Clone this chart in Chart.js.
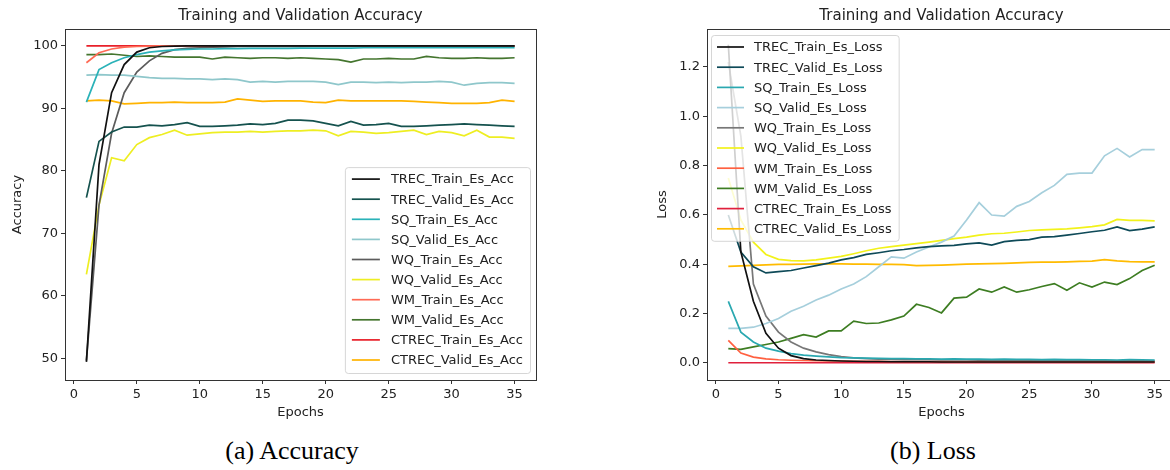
<!DOCTYPE html>
<html>
<head>
<meta charset="utf-8">
<script src="https://cdn.jsdelivr.net/npm/chart.js"></script>
<style>
  html, body { margin: 0; padding: 0; background: #fff; }
  #page { position: relative; width: 1170px; height: 470px; overflow: hidden; }
  .box { position: absolute; top: 0; height: 430px; }
  .caption { position: absolute; top: 436px; font-family: "Liberation Serif", serif; font-size: 26px; color: #000; transform: translateX(-50%); white-space: nowrap; }
</style>
</head>
<body>
<div id="page">
  <div class="box" style="left:0; width:548px;"><canvas id="acc-chart"></canvas></div>
  <div class="box" style="left:640px; width:540px;"><canvas id="loss-chart"></canvas></div>
  <div class="caption" style="left:292px;">(a) Accuracy</div>
  <div class="caption" style="left:933px;">(b) Loss</div>
</div>
<script>
const epochs = [1, 2, 3, 4, 5, 6, 7, 8, 9, 10, 11, 12, 13, 14, 15, 16, 17, 18, 19, 20,
  21, 22, 23, 24, 25, 26, 27, 28, 29, 30, 31, 32, 33, 34, 35];
const xTicks = [0, 5, 10, 15, 20, 25, 30, 35];
const accTicks = [50, 60, 70, 80, 90, 100];
const lossTicks = [0, 0.2, 0.4, 0.6, 0.8, 1.0, 1.2];

// accuracy (%)
const trecTrainAcc = [49.4, 81.0, 92.5, 97.0, 99.0, 99.7, 99.9, 99.95, 100, 100, 100, 100, 100, 100, 100, 100, 100, 100, 100, 100, 100, 100, 100, 100, 100, 100, 100, 100, 100, 100, 100, 100, 100, 100, 100];
const trecValidAcc = [75.7, 84.7, 86.2, 87.0, 87.0, 87.3, 87.2, 87.4, 87.7, 87.1, 87.1, 87.2, 87.3, 87.5, 87.4, 87.6, 88.1, 88.1, 88.0, 87.6, 87.2, 87.9, 87.3, 87.4, 87.6, 87.1, 87.1, 87.2, 87.3, 87.4, 87.5, 87.4, 87.3, 87.2, 87.1];
const sqTrainAcc = [91.0, 96.2, 97.3, 98.1, 98.6, 99.0, 99.2, 99.35, 99.45, 99.5, 99.5, 99.55, 99.55, 99.6, 99.6, 99.6, 99.6, 99.65, 99.65, 99.65, 99.65, 99.65, 99.7, 99.7, 99.7, 99.7, 99.7, 99.7, 99.7, 99.7, 99.7, 99.7, 99.7, 99.7, 99.7];
const sqValidAcc = [95.3, 95.4, 95.3, 95.3, 95.1, 94.9, 94.8, 94.8, 94.7, 94.7, 94.6, 94.7, 94.6, 94.2, 94.3, 94.2, 94.3, 94.3, 94.3, 94.2, 93.8, 94.2, 94.2, 94.1, 94.2, 94.1, 94.2, 94.2, 94.3, 94.2, 93.7, 94.0, 94.1, 94.1, 94.0];
const wqTrainAcc = [49.6, 74.5, 86.0, 92.5, 95.8, 97.6, 98.8, 99.4, 99.6, 99.7, 99.8, 99.85, 99.9, 99.9, 99.9, 99.9, 99.9, 99.9, 99.95, 99.95, 99.95, 99.95, 99.95, 99.95, 99.95, 99.95, 99.95, 99.95, 99.95, 99.95, 99.95, 99.95, 99.95, 99.95, 99.95];
const wqValidAcc = [63.4, 74.5, 82.1, 81.6, 84.2, 85.3, 85.8, 86.5, 85.7, 85.9, 86.1, 86.2, 86.2, 86.3, 86.2, 86.3, 86.4, 86.4, 86.5, 86.4, 85.6, 86.3, 86.2, 86.0, 86.1, 86.3, 86.5, 85.8, 86.3, 86.1, 85.6, 86.5, 85.4, 85.4, 85.2];
const wmTrainAcc = [97.3, 98.9, 99.5, 99.8, 99.9, 99.95, 100, 100, 100, 100, 100, 100, 100, 100, 100, 100, 100, 100, 100, 100, 100, 100, 100, 100, 100, 100, 100, 100, 100, 100, 100, 100, 100, 100, 100];
const wmValidAcc = [98.6, 98.6, 98.7, 98.5, 98.3, 98.4, 98.3, 98.2, 98.2, 98.2, 97.9, 98.2, 98.1, 98.0, 98.1, 98.1, 98.0, 98.1, 98.0, 97.9, 97.8, 97.4, 97.9, 97.9, 98.0, 97.9, 97.9, 98.3, 98.1, 98.0, 98.0, 98.1, 98.0, 98.0, 98.1];
const ctrecTrainAcc = [100, 100, 100, 100, 100, 100, 100, 100, 100, 100, 100, 100, 100, 100, 100, 100, 100, 100, 100, 100, 100, 100, 100, 100, 100, 100, 100, 100, 100, 100, 100, 100, 100, 100, 100];
const ctrecValidAcc = [91.2, 91.3, 91.2, 90.7, 90.8, 90.9, 90.9, 91.0, 90.9, 90.9, 90.9, 91.0, 91.5, 91.3, 91.1, 91.2, 91.2, 91.2, 91.0, 90.9, 91.3, 91.2, 91.2, 91.2, 91.2, 91.2, 91.1, 91.0, 90.9, 90.8, 90.8, 90.8, 90.9, 91.3, 91.1];

// loss
const trecTrainLoss = [1.29, 0.45, 0.25, 0.12, 0.06, 0.03, 0.018, 0.012, 0.010, 0.008, 0.007, 0.006, 0.006, 0.005, 0.005, 0.005, 0.005, 0.004, 0.004, 0.004, 0.004, 0.004, 0.004, 0.004, 0.004, 0.004, 0.004, 0.004, 0.004, 0.004, 0.004, 0.004, 0.004, 0.004, 0.004];
const trecValidLoss = [0.60, 0.45, 0.39, 0.365, 0.37, 0.375, 0.385, 0.395, 0.405, 0.418, 0.427, 0.44, 0.447, 0.455, 0.46, 0.467, 0.472, 0.475, 0.477, 0.483, 0.487, 0.478, 0.492, 0.497, 0.50, 0.51, 0.512, 0.518, 0.525, 0.532, 0.538, 0.552, 0.537, 0.543, 0.552];
const sqTrainLoss = [0.25, 0.125, 0.085, 0.06, 0.048, 0.038, 0.032, 0.028, 0.025, 0.022, 0.021, 0.020, 0.019, 0.018, 0.018, 0.017, 0.017, 0.016, 0.017, 0.016, 0.016, 0.015, 0.016, 0.015, 0.015, 0.014, 0.015, 0.014, 0.014, 0.013, 0.013, 0.012, 0.014, 0.013, 0.012];
const sqValidLoss = [0.14, 0.14, 0.145, 0.16, 0.18, 0.21, 0.23, 0.255, 0.275, 0.30, 0.32, 0.35, 0.39, 0.43, 0.425, 0.45, 0.47, 0.49, 0.515, 0.58, 0.65, 0.60, 0.595, 0.635, 0.655, 0.69, 0.72, 0.765, 0.77, 0.77, 0.84, 0.87, 0.835, 0.865, 0.865];
const wqTrainLoss = [1.22, 0.92, 0.32, 0.19, 0.125, 0.085, 0.06, 0.045, 0.034, 0.026, 0.021, 0.018, 0.016, 0.015, 0.014, 0.013, 0.013, 0.012, 0.012, 0.012, 0.011, 0.011, 0.011, 0.011, 0.010, 0.010, 0.010, 0.010, 0.010, 0.010, 0.010, 0.009, 0.009, 0.009, 0.009];
const wqValidLoss = [0.75, 0.58, 0.49, 0.44, 0.42, 0.415, 0.414, 0.418, 0.425, 0.432, 0.443, 0.455, 0.465, 0.472, 0.478, 0.484, 0.49, 0.497, 0.504, 0.51, 0.518, 0.524, 0.526, 0.531, 0.537, 0.54, 0.542, 0.544, 0.548, 0.553, 0.56, 0.582, 0.578, 0.578, 0.576];
const wmTrainLoss = [0.092, 0.04, 0.024, 0.017, 0.013, 0.011, 0.010, 0.009, 0.008, 0.008, 0.007, 0.007, 0.007, 0.006, 0.006, 0.006, 0.006, 0.006, 0.005, 0.005, 0.005, 0.005, 0.005, 0.005, 0.005, 0.005, 0.005, 0.005, 0.005, 0.005, 0.005, 0.005, 0.005, 0.005, 0.005];
const wmValidLoss = [0.058, 0.055, 0.065, 0.075, 0.085, 0.10, 0.115, 0.105, 0.13, 0.13, 0.17, 0.16, 0.162, 0.175, 0.19, 0.238, 0.225, 0.203, 0.263, 0.267, 0.30, 0.287, 0.308, 0.287, 0.297, 0.31, 0.322, 0.295, 0.325, 0.308, 0.328, 0.318, 0.342, 0.375, 0.396];
const ctrecTrainLoss = [0.001, 0.001, 0.001, 0.001, 0.001, 0.001, 0.001, 0.001, 0.001, 0.001, 0.001, 0.001, 0.001, 0.001, 0.001, 0.001, 0.001, 0.001, 0.001, 0.001, 0.001, 0.001, 0.001, 0.001, 0.001, 0.001, 0.001, 0.001, 0.001, 0.001, 0.001, 0.001, 0.001, 0.001, 0.001];
const ctrecValidLoss = [0.392, 0.394, 0.396, 0.398, 0.40, 0.40, 0.401, 0.402, 0.402, 0.402, 0.401, 0.401, 0.40, 0.40, 0.399, 0.395, 0.396, 0.397, 0.399, 0.401, 0.402, 0.403, 0.404, 0.406, 0.408, 0.409, 0.409, 0.41, 0.412, 0.413, 0.419, 0.414, 0.411, 0.41, 0.41];

const accSeries = [
  ['TREC_Train_Es_Acc', trecTrainAcc, '#111111'],
  ['TREC_Valid_Es_Acc', trecValidAcc, '#15524e'],
  ['SQ_Train_Es_Acc', sqTrainAcc, '#2ab2b8'],
  ['SQ_Valid_Es_Acc', sqValidAcc, '#8fc7cb'],
  ['WQ_Train_Es_Acc', wqTrainAcc, '#5c5c5c'],
  ['WQ_Valid_Es_Acc', wqValidAcc, '#eeee22'],
  ['WM_Train_Es_Acc', wmTrainAcc, '#ff6a55'],
  ['WM_Valid_Es_Acc', wmValidAcc, '#44752e'],
  ['CTREC_Train_Es_Acc', ctrecTrainAcc, '#e8202a'],
  ['CTREC_Valid_Es_Acc', ctrecValidAcc, '#ffb300']
];
const lossSeries = [
  ['TREC_Train_Es_Loss', trecTrainLoss, '#111111'],
  ['TREC_Valid_Es_Loss', trecValidLoss, '#0e4a58'],
  ['SQ_Train_Es_Loss', sqTrainLoss, '#2aa8b0'],
  ['SQ_Valid_Es_Loss', sqValidLoss, '#a6cfdc'],
  ['WQ_Train_Es_Loss', wqTrainLoss, '#777777'],
  ['WQ_Valid_Es_Loss', wqValidLoss, '#f2f21a'],
  ['WM_Train_Es_Loss', wmTrainLoss, '#ff6040'],
  ['WM_Valid_Es_Loss', wmValidLoss, '#3d7d22'],
  ['CTREC_Train_Es_Loss', ctrecTrainLoss, '#e0203c'],
  ['CTREC_Valid_Es_Loss', ctrecValidLoss, '#ffbb00']
];

Chart.defaults.font.family = '"DejaVu Sans", sans-serif';
Chart.defaults.color = '#222';

// matplotlib style frame around the plot area
const frame = {
  id: 'frame',
  afterDatasetsDraw(chart) {
    const { ctx, chartArea: a } = chart;
    ctx.save();
    ctx.strokeStyle = '#333';
    ctx.lineWidth = 1;
    ctx.strokeRect(Math.round(a.left) + 0.5, Math.round(a.top) + 0.5, Math.round(a.right - a.left), Math.round(a.bottom - a.top));
    ctx.restore();
  }
};

// legend box drawn inside the plot area
const boxLegend = {
  id: 'boxLegend',
  afterDraw(chart, args, o) {
    const { ctx, chartArea: a } = chart;
    const sets = chart.data.datasets;
    ctx.save();
    ctx.font = '13px "DejaVu Sans"';
    const textW = Math.max(...sets.map(d => ctx.measureText(d.label).width));
    const w = o.padX + o.handle + o.gap + textW + o.padR;
    const h = o.padTop + (sets.length - 1) * o.row + o.padBottom;
    const x = o.corner === 'lower right' ? a.right - o.insetX - w : a.left + o.insetX;
    const y = o.corner === 'lower right' ? a.bottom - o.insetY - h : a.top + o.insetY;
    ctx.beginPath();
    ctx.roundRect(x + 0.5, y + 0.5, w, h, 3);
    ctx.fillStyle = 'rgba(255,255,255,0.8)';
    ctx.fill();
    ctx.strokeStyle = 'rgba(204,204,204,0.8)';
    ctx.lineWidth = 1;
    ctx.stroke();
    sets.forEach((d, i) => {
      const cy = y + o.padTop + i * o.row;
      ctx.strokeStyle = d.borderColor;
      ctx.lineWidth = d.borderWidth;
      ctx.beginPath();
      ctx.moveTo(x + o.padX, cy);
      ctx.lineTo(x + o.padX + o.handle, cy);
      ctx.stroke();
      ctx.fillStyle = '#222';
      ctx.textBaseline = 'middle';
      ctx.fillText(d.label, x + o.padX + o.handle + o.gap, cy + 1);
    });
    ctx.restore();
  }
};

function makeChart(id, series, cfg) {
  const canvas = document.getElementById(id);
  return new Chart(canvas.getContext('2d'), {
    type: 'line',
    data: {
      datasets: series.map(([label, values, color]) => ({
        label,
        data: epochs.map((e, i) => ({ x: e, y: values[i] })),
        borderColor: color,
        backgroundColor: color,
        borderWidth: 1.7,
        pointRadius: 0,
        tension: 0,
        fill: false
      }))
    },
    options: {
      responsive: true,
      maintainAspectRatio: false,
      animation: false,
      layout: { padding: { left: 0, right: cfg.padRight, top: 0, bottom: 0 } },
      scales: {
        x: {
          type: 'linear',
          min: -0.7,
          max: 36.7,
          afterBuildTicks: axis => { axis.ticks = xTicks.map(v => ({ value: v })); },
          afterFit: scale => { scale.height = 50; },
          grid: { drawOnChartArea: false, drawTicks: true, tickLength: 4, color: '#333' },
          border: { display: false },
          ticks: { font: { size: 13 }, color: '#222', padding: 3, maxRotation: 0 },
          title: { display: true, text: 'Epochs', font: { size: 13 }, color: '#222', padding: { top: 0, bottom: 10 } }
        },
        y: {
          type: 'linear',
          min: cfg.yMin,
          max: cfg.yMax,
          afterBuildTicks: axis => { axis.ticks = cfg.yTicks.map(v => ({ value: v })); },
          afterFit: scale => { scale.width = cfg.yWidth; },
          grid: { drawOnChartArea: false, drawTicks: true, tickLength: 4, color: '#333' },
          border: { display: false },
          ticks: { font: { size: 13 }, color: '#222', padding: 3, callback: cfg.fmt },
          title: { display: true, text: cfg.yTitle, font: { size: 13 }, color: '#222', padding: { top: cfg.yTitlePad, bottom: 0 } }
        }
      },
      plugins: {
        legend: { display: false },
        tooltip: { enabled: false },
        title: {
          display: true,
          fullSize: false,
          text: 'Training and Validation Accuracy',
          font: { size: 15, weight: 'normal' },
          color: '#222',
          padding: { top: 7, bottom: 4 }
        },
        boxLegend: cfg.legend
      }
    },
    plugins: [frame, boxLegend]
  });
}

makeChart('acc-chart', accSeries, {
  padRight: 12, yWidth: 65, yMin: 46.5, yMax: 102.7, yTicks: accTicks,
  yTitle: 'Accuracy', yTitlePad: 10, fmt: v => String(v),
  legend: { corner: 'lower right', insetX: 6, insetY: 7, padX: 7, handle: 28, gap: 11, padR: 7, padTop: 12, padBottom: 13, row: 20.1 }
});

makeChart('loss-chart', lossSeries, {
  padRight: 4, yWidth: 67, yMin: -0.069, yMax: 1.354, yTicks: lossTicks,
  yTitle: 'Loss', yTitlePad: 15, fmt: v => v.toFixed(1),
  legend: { corner: 'upper left', insetX: 4, insetY: 6, padX: 6, handle: 27, gap: 10, padR: 7, padTop: 12, padBottom: 12, row: 20.2 }
});
</script>
</body>
</html>
